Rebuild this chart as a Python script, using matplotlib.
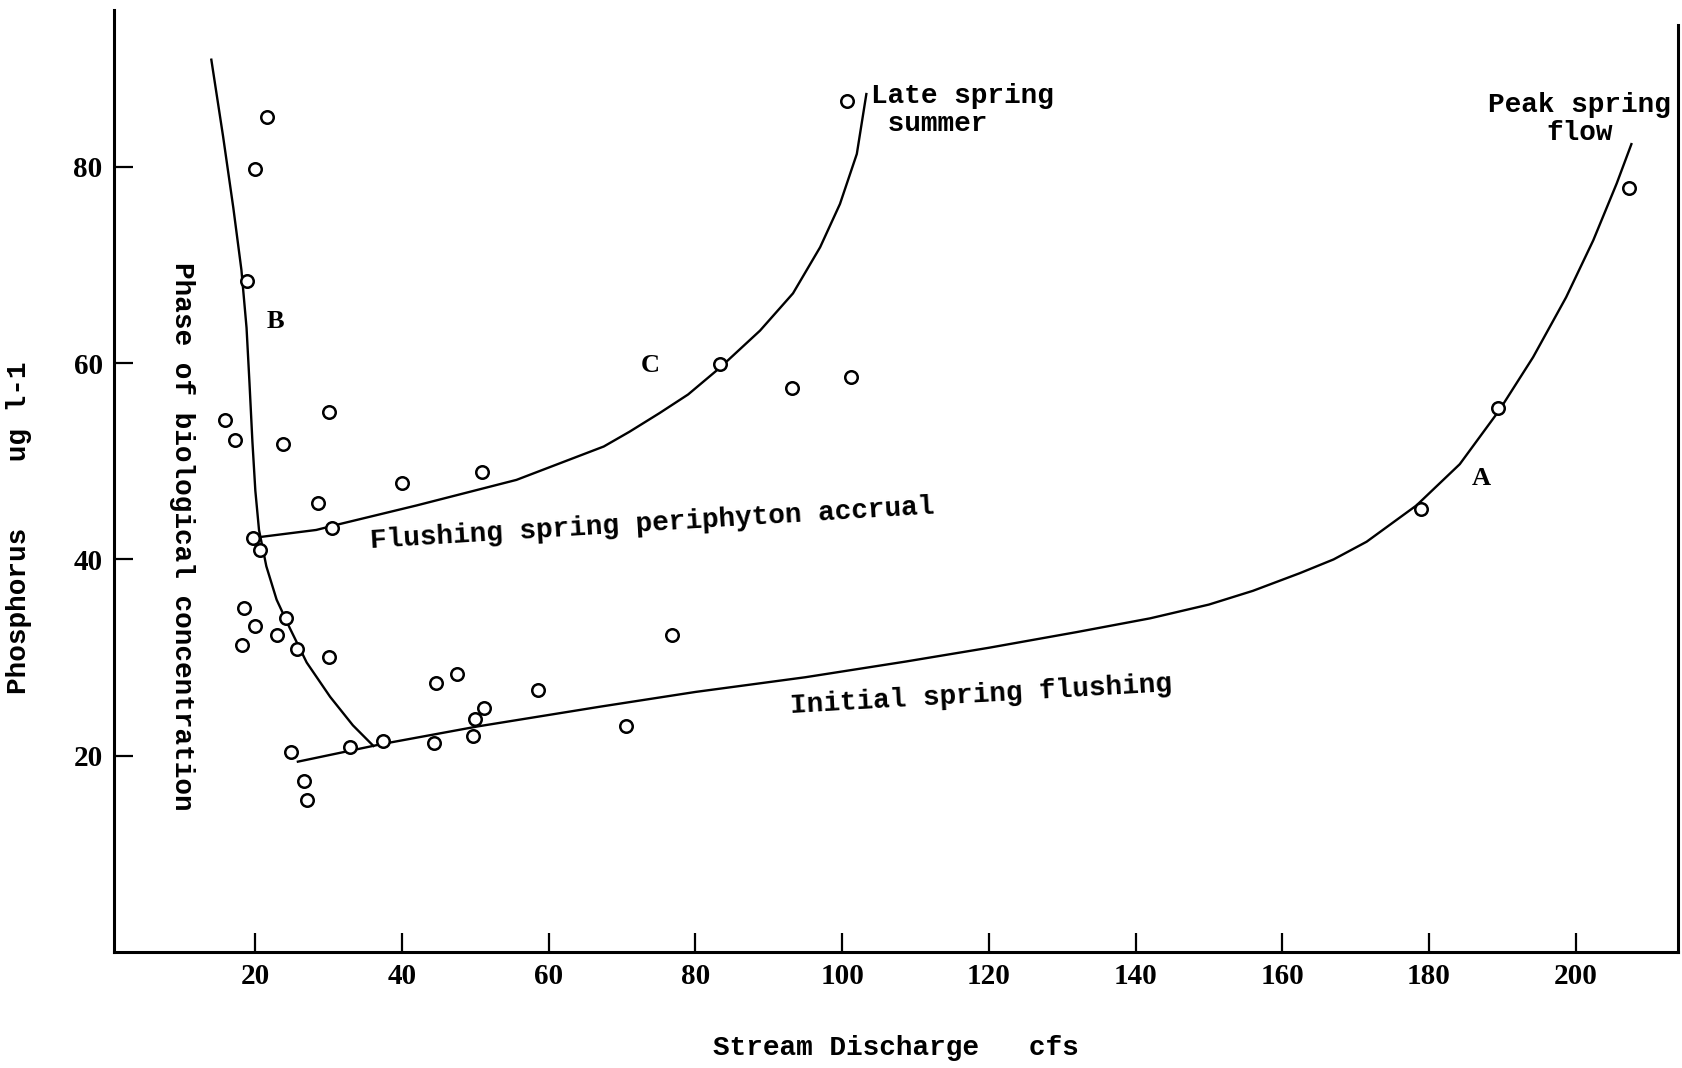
import matplotlib
matplotlib.use("Agg")
import matplotlib.pyplot as plt

# observed points: stream discharge (cfs) vs phosphorus (ug l-1)
discharge = [21.6, 20.0, 18.8, 15.8, 17.2, 30.0, 23.8, 28.5, 40.0, 50.9,
             19.7, 30.5, 20.7, 83.4, 93.2, 101.2, 100.6, 207.3, 189.4, 178.9,
             18.4, 19.9, 18.2, 22.9, 24.2, 25.7, 30.0, 76.8, 44.6, 47.5,
             58.6, 51.2, 49.9, 49.7, 44.4, 37.4, 32.9, 24.8, 70.6, 26.6, 27.0]
phosphorus = [85.1, 79.8, 68.4, 54.2, 52.2, 55.0, 51.8, 45.7, 47.8, 48.9,
              42.2, 43.2, 41.0, 59.9, 57.5, 58.6, 86.7, 77.8, 55.4, 45.1,
              35.1, 33.2, 31.3, 32.3, 34.0, 30.9, 30.1, 32.3, 27.4, 28.3,
              26.7, 24.9, 23.7, 22.0, 21.3, 21.5, 20.9, 20.4, 23.0, 17.4, 15.5]

# hand drawn curves
curve_b_x = [14.0, 15.6, 17.0, 18.1, 18.8, 19.2, 19.6, 20.0, 20.5, 21.5, 22.9,
             24.7, 27.0, 30.2, 33.3, 36.1]
curve_b_y = [90.9, 83.1, 75.8, 69.5, 63.6, 58.0, 52.0, 47.0, 43.0, 39.3, 35.9,
             33.0, 29.5, 26.0, 23.1, 21.0]

curve_c_x = [20.85, 28.3, 31.5, 42.0, 55.6, 67.5, 71.0, 75.1, 79.0, 83.3, 88.8,
             93.3, 97.0, 99.7, 102.0, 103.3]
curve_c_y = [42.3, 43.0, 43.6, 45.5, 48.1, 51.5, 53.0, 54.9, 56.8, 59.5, 63.3,
             67.1, 71.8, 76.2, 81.3, 87.4]

curve_a_x = [25.8, 37.3, 50.4, 67.0, 80.0, 95.0, 108.7, 120.0, 132.0, 142.0,
             150.0, 156.0, 162.4, 167.0, 171.5, 178.3, 184.2, 189.6, 194.2,
             198.7, 202.4, 205.6, 207.6]
curve_a_y = [19.4, 21.2, 23.0, 25.0, 26.5, 28.0, 29.6, 31.0, 32.6, 34.0,
             35.4, 36.8, 38.6, 40.0, 41.8, 45.5, 49.7, 55.2, 60.6,
             66.7, 72.5, 78.3, 82.3]

x_ticks = [20, 40, 60, 80, 100, 120, 140, 160, 180, 200]
y_ticks = [20, 40, 60, 80]

mono = "Liberation Mono"
serif = "Liberation Serif"

fig = plt.figure(figsize=(16.83, 10.68), dpi=100)
ax = fig.add_axes([0.0676, 0.1085, 0.9292, 0.8825])

for cx, cy in [(curve_b_x, curve_b_y), (curve_c_x, curve_c_y), (curve_a_x, curve_a_y)]:
    ax.plot(cx, cy, color="black", lw=1.7, solid_joinstyle="round")
ax.plot(discharge, phosphorus, "o", ms=9, mfc="white", mec="black", mew=1.8, ls="none")

ax.set_xlim(0.7, 213.9)
ax.set_ylim(0, 96)

ax.spines["top"].set_visible(False)
for s in ["left", "bottom", "right"]:
    ax.spines[s].set_linewidth(2.2)
ax.spines["right"].set_bounds(0, 94.4)

ax.set_xticks(x_ticks)
ax.set_yticks(y_ticks)
ax.tick_params(direction="in", length=14, width=1.6, pad=8)
for lab in ax.get_xticklabels() + ax.get_yticklabels():
    lab.set_fontfamily(serif)
    lab.set_fontweight("bold")
    lab.set_fontsize(21)

ax.set_xlabel("Stream Discharge   cfs", fontfamily=mono, fontweight="bold", fontsize=20)
ax.xaxis.set_label_coords(0.5, -0.088)
ax.set_ylabel("Phosphorus    ug l-1", fontfamily=mono, fontweight="bold", fontsize=20)
ax.yaxis.set_label_coords(-0.052, 0.45)

# curve annotations
ax.text(104.0, 85.8, "Late spring\n summer", fontfamily=mono, fontweight="bold",
        fontsize=20, ha="left", va="center", linespacing=1.1)
ax.text(200.5, 84.9, "Peak spring\nflow", fontfamily=mono, fontweight="bold",
        fontsize=20, ha="center", va="center", multialignment="center", linespacing=1.1)
ax.text(74.1, 43.6, "Flushing spring periphyton accrual", fontfamily=mono,
        fontweight="bold", fontsize=20, ha="center", va="center", rotation=3.5)
ax.text(118.9, 26.2, "Initial spring flushing", fontfamily=mono,
        fontweight="bold", fontsize=20, ha="center", va="center", rotation=3.3)
ax.text(10.0, 42.4, "Phase of biological concentration", fontfamily=mono,
        fontweight="bold", fontsize=20, ha="center", va="center", rotation=-90)

ax.text(22.8, 64.2, "B", fontfamily=serif, fontweight="bold", fontsize=19, ha="center", va="center")
ax.text(73.8, 59.8, "C", fontfamily=serif, fontweight="bold", fontsize=19, ha="center", va="center")
ax.text(187.1, 48.2, "A", fontfamily=serif, fontweight="bold", fontsize=19, ha="center", va="center")

fig.savefig("out.png", dpi=100)
